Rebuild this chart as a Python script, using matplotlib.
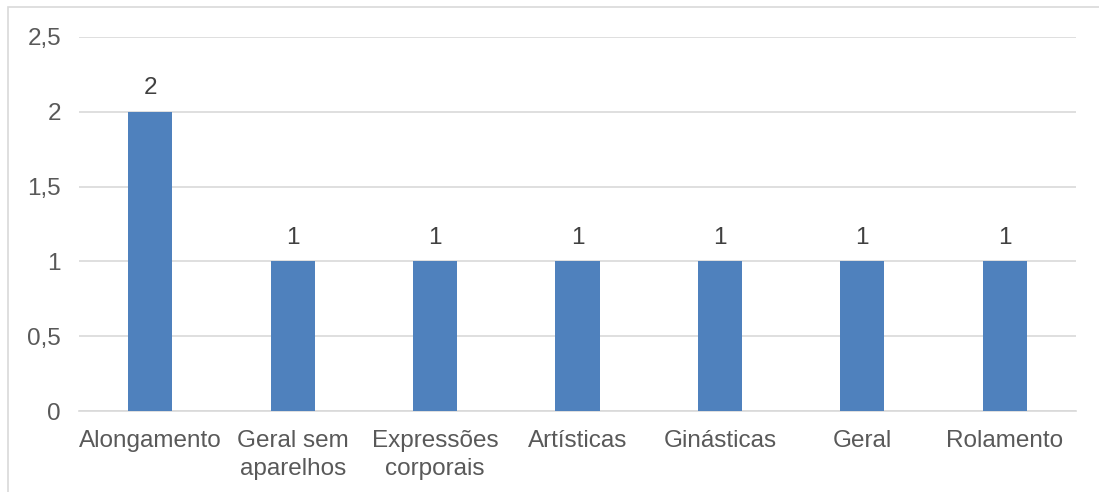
import matplotlib.pyplot as plt
from matplotlib.patches import Rectangle

# categories and counts
categories = ["Alongamento", "Geral sem\naparelhos", "Expressões\ncorporais",
              "Artísticas", "Ginásticas", "Geral", "Rolamento"]
values = [2, 1, 1, 1, 1, 1, 1]
yticks = [0, 0.5, 1, 1.5, 2, 2.5]
ytick_labels = ["0", "0,5", "1", "1,5", "2", "2,5"]

plt.rcParams['font.family'] = ['Liberation Sans', 'DejaVu Sans']

fig = plt.figure(figsize=(10.99, 4.92), dpi=100)
ax = fig.add_axes([79 / 1099, 1 - 411 / 492, 997 / 1099, 374 / 492])

# outer chart frame (only left and top edges visible)
fig.patches.append(Rectangle((8 / 1099, -0.1), 1.2, 1 - 7 / 492 + 0.1,
                             transform=fig.transFigure, fill=False,
                             edgecolor='#d9d9d9', linewidth=1.2))

x = list(range(len(categories)))
bars = ax.bar(x, values, width=0.31, color='#4f81bd', zorder=3)

for xi, v in zip(x, values):
    ax.annotate(str(v), (xi, v), xytext=(0, 9), textcoords='offset points',
                ha='center', va='bottom', fontsize=17.5, color='#404040')

ax.set_xlim(-0.5, len(categories) - 0.5)
ax.set_ylim(0, 2.5)
ax.set_yticks(yticks)
ax.set_yticklabels(ytick_labels)
ax.set_xticks(x)
ax.set_xticklabels(categories, linespacing=1.3)
ax.grid(axis='y', color='#d9d9d9', linewidth=1.2, zorder=0)
ax.tick_params(axis='both', length=0, labelsize=17.5, colors='#595959')
ax.tick_params(axis='y', pad=13)
ax.tick_params(axis='x', pad=14)
for s in ax.spines.values():
    s.set_visible(False)
ax.spines['bottom'].set_visible(True)
ax.spines['bottom'].set_color('#d9d9d9')
ax.spines['bottom'].set_linewidth(1.2)

fig.savefig('out.png', dpi=100)
